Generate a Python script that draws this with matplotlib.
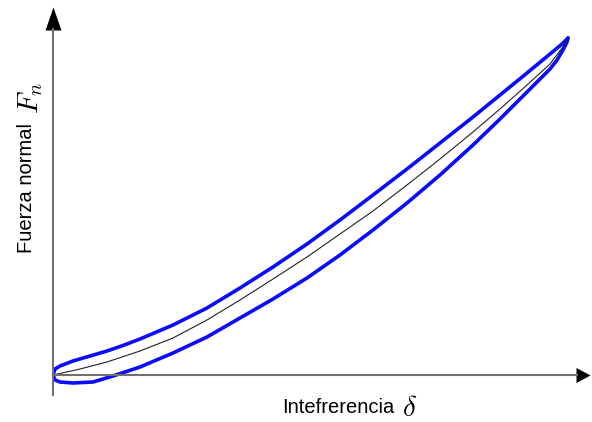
import matplotlib
matplotlib.use("Agg")
import matplotlib.pyplot as plt
from matplotlib.path import Path

plt.rcParams['mathtext.fontset'] = 'cm'
plt.rcParams['font.family'] = ['Liberation Sans', 'DejaVu Sans']

# Loading branch (upper blue)
upper_x = [0, 2, 7, 20, 37, 54, 70, 87, 120, 154, 187, 220, 254, 287, 320, 354, 387, 420, 447, 474, 497, 509, 515]
upper_y = [0, 6, 9, 14, 19, 24, 29.5, 36, 50, 67, 87, 108, 131, 155, 180, 206, 232, 258, 280, 302, 321, 331, 337]
# Elastic (centre black) curve
center_x = [0, 27, 54, 87, 120, 154, 187, 220, 254, 287, 320, 354, 387, 420, 447, 474, 497, 512, 515]
center_y = [0, 6, 13, 24, 37, 55, 75, 96, 118, 141, 164, 190, 216, 243, 266, 290, 311, 331, 337]
# Unloading branch (lower blue)
lower_x = [0, 2, 7, 20, 40, 60, 87, 120, 154, 187, 220, 254, 287, 320, 354, 387, 420, 447, 474, 497, 504, 510, 514, 515]
lower_y = [0, -5, -7, -8, -7, -1, 8, 22, 38, 57, 76, 97, 120, 145, 172, 200, 230, 256, 283, 306, 315, 325, 333, 337]

xlabel = "Intefrerencia"
xsym = r"$\delta$"
ylabel = "Fuerza normal"
ysym = r"$F_n$"

W, H = 592, 422
fig = plt.figure(figsize=(W / 100, H / 100), dpi=100)
ox, oy = 53, 375          # pixel of the origin
x_tip, y_tip = 590, 7     # arrow tips (pixels)
y_bot = 395
ax = fig.add_axes([ox / W, (H - y_bot) / H, (x_tip - ox) / W, (y_bot - y_tip) / H])
ax.set_xlim(0, x_tip - ox)
ax.set_ylim(-(y_bot - oy), oy - y_tip)
ax.patch.set_visible(False)

ax.plot(upper_x, upper_y, color='#0a0aff', lw=2.6, solid_capstyle='round', solid_joinstyle='round')
ax.plot(lower_x, lower_y, color='#0a0aff', lw=2.6, solid_capstyle='round', solid_joinstyle='round')
ax.plot(center_x, center_y, color='#222222', lw=0.8)

for s in ['top', 'right']:
    ax.spines[s].set_visible(False)
ax.spines['bottom'].set_position(('data', 0))
ax.spines['left'].set_position(('data', 0))
for s in ['bottom', 'left']:
    ax.spines[s].set_color('#707070')
    ax.spines[s].set_linewidth(1.5)
ax.spines['left'].set_bounds(-(y_bot - oy), oy - y_tip - 22)
ax.spines['bottom'].set_bounds(0, x_tip - ox - 13)
ax.set_xticks([])
ax.set_yticks([])

up_marker = Path([(0, 0), (-8, -23), (8, -23), (0, 0)], closed=True)
right_marker = Path([(0, 0), (-14, 7.5), (-14, -7.5), (0, 0)], closed=True)
ax.plot([0], [1], marker=up_marker, markersize=2 * 23 * 0.72, color='black',
        transform=ax.get_xaxis_transform(), clip_on=False, mew=0)
ax.plot([1], [0], marker=right_marker, markersize=2 * 14 * 0.72, color='black',
        transform=ax.get_yaxis_transform(), clip_on=False, mew=0)

fig.text(282 / W, 1 - 413 / H, xlabel, fontsize=14.5, ha='left', va='baseline')
fig.text(402 / W, 1 - 416 / H, xsym, fontsize=21, ha='left', va='baseline')
fig.text(32 / W, 1 - 253 / H, ylabel, fontsize=14.5, ha='left', va='baseline',
         rotation=90, rotation_mode='anchor')
fig.text(38 / W, 1 - 114 / H, ysym, fontsize=21, ha='left', va='baseline',
         rotation=90, rotation_mode='anchor')

fig.savefig('out.png', dpi=100)
